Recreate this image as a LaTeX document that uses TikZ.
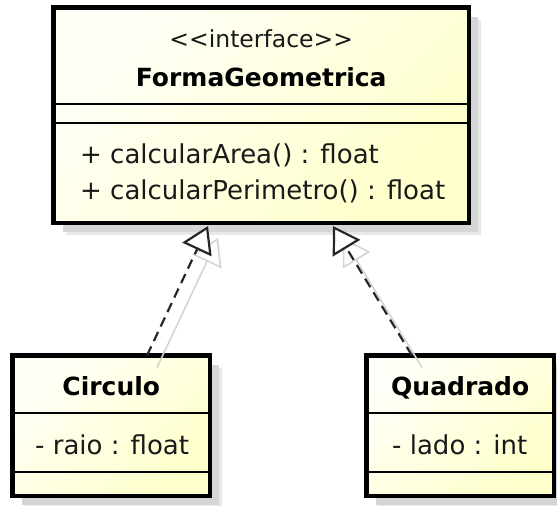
\documentclass[tikz,border=0pt]{standalone}
\usepackage{fontspec}
\setmainfont{DejaVu Sans}
\usetikzlibrary{arrows.meta,backgrounds}
\definecolor{boxA}{RGB}{255,255,247}
\definecolor{boxB}{RGB}{255,255,203}
\definecolor{shadowin}{RGB}{214,214,214}
\definecolor{shadowout}{RGB}{232,232,232}
\definecolor{ghostc}{RGB}{212,212,212}
\definecolor{linec}{RGB}{38,38,38}
\begin{document}
\begin{tikzpicture}[x=1pt,y=-1pt,
  umlbox/.style={draw=black, line width=4.5pt, inner sep=0pt, outer sep=0pt,
    top color=boxA, bottom color=boxB, shading angle=45},
  seprule/.style={draw=black, line width=2.6pt},
  textreg/.style={font=\fontsize{26}{30}\selectfont, inner sep=0pt, anchor=base west, text=black!90},
  textbold/.style={font=\fontsize{25}{30}\selectfont\bfseries, inner sep=0pt, anchor=base, text=black},
  stereo/.style={font=\fontsize{23.5}{28}\selectfont, inner sep=0pt, anchor=base, text=black!90},
  realize/.style={draw=linec, line width=2.2pt, dash pattern=on 10pt off 6pt,
    -{Triangle[length=26pt, width=32pt, fill=white]}},
  ghost/.style={draw=ghostc, line width=1.6pt,
    -{Triangle[open, length=26pt, width=32pt]}},
  shadowbox/.style={fill=shadowin},
  shadowedge/.style={fill=shadowout}]
\useasboundingbox (0,0) rectangle (557,506);

% boxes
\node[umlbox, minimum width=415.5pt, minimum height=215.5pt] (forma) at (261.25,115.25) {};
\node[umlbox, minimum width=197.5pt, minimum height=140.5pt] (circulo) at (111.25,425.75) {};
\node[umlbox, minimum width=187.5pt, minimum height=140.5pt] (quadrado) at (460.25,425.75) {};

% shadows
\begin{scope}[on background layer]
  \foreach \b in {forma,circulo,quadrado}{
    \fill[shadowedge] ([shift={(12pt,-12pt)}]\b.north west) rectangle ([shift={(12pt,-12pt)}]\b.south east);
    \fill[shadowbox] ([shift={(9pt,-9pt)}]\b.north west) rectangle ([shift={(9pt,-9pt)}]\b.south east);
  }
\end{scope}

% compartments
\draw[seprule] (53.5,104) -- (469,104);
\draw[seprule] (53.5,123) -- (469,123);
\draw[seprule] (12.5,413) -- (210,413);
\draw[seprule] (12.5,472) -- (210,472);
\draw[seprule] (366.5,413) -- (554,413);
\draw[seprule] (366.5,472) -- (554,472);

% texts
\node[stereo] (st) at (261.25,47) {<\kern0pt<interface>\kern0pt>};
\node[textbold] (fname) at (261.25,86) {FormaGeometrica};
\node[textreg] (m1) at (80,163) {+ calcularArea() : float};
\node[textreg] (m2) at (80,199) {+ calcularPerimetro() : float};
\node[textbold] (cname) at (111.25,395) {Circulo};
\node[textreg] (ca) at (35,454) {- raio : float};
\node[textbold] (qname) at (460.25,395) {Quadrado};
\node[textreg] (qa) at (392,454) {- lado : int};

% connector shadows
\draw[ghost] ([xshift=45.75pt,yshift=-12pt]circulo.north) -- ([xshift=-43.25pt,yshift=-15pt]forma.south);
\draw[ghost] ([xshift=-38.25pt,yshift=-12pt]quadrado.north) -- ([xshift=81.75pt,yshift=-15pt]forma.south);

% realizations
\draw[realize] ([xshift=35.75pt]circulo.north) -- ([xshift=-53.25pt,yshift=-3pt]forma.south);
\draw[realize] ([xshift=-48.25pt]quadrado.north) -- ([xshift=71.75pt,yshift=-3pt]forma.south);
\end{tikzpicture}
\end{document}
